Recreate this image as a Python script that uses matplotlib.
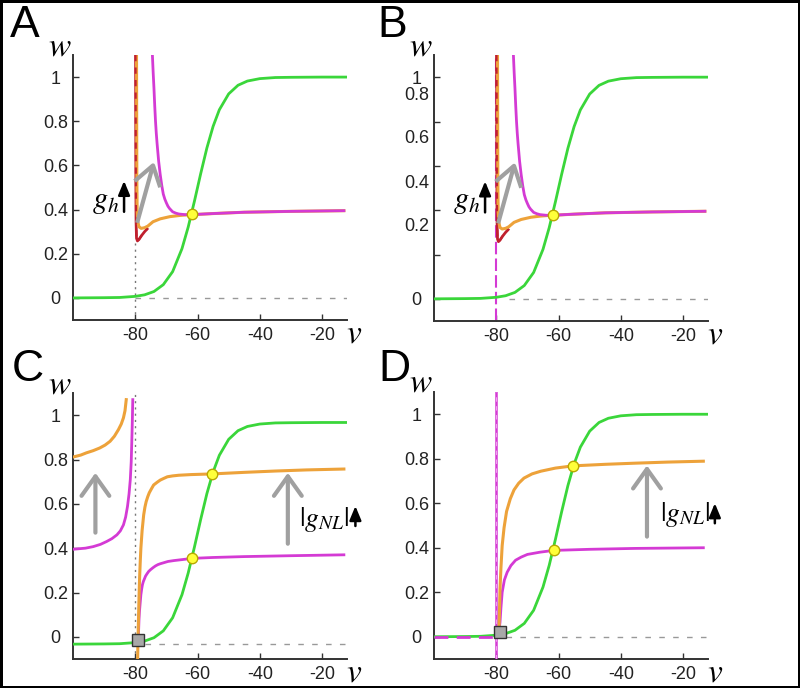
import matplotlib
matplotlib.use("Agg")
import matplotlib.pyplot as plt

plt.rcParams['font.family'] = ['Liberation Sans', 'DejaVu Sans']
plt.rcParams['mathtext.fontset'] = 'stix'

# colours
GREEN = '#3ad63a'
MAGENTA = '#d43ad4'
ORANGE = '#eda23a'
DARKRED = '#c0202e'
GRAY = '#a0a0a0'

# ---- data ----
# w-nullcline (green), panels A, B, D
green_v = [-100, -90, -85, -80, -77, -74, -71, -68, -65, -63, -61, -59, -57, -55,
           -53, -50, -47, -44, -40, -35, -30, -20, -12]
green_w = [0.0, 0.001, 0.002, 0.007, 0.014, 0.029, 0.060, 0.119, 0.223, 0.321, 0.438,
           0.562, 0.679, 0.777, 0.852, 0.924, 0.963, 0.982, 0.993, 0.998, 0.999, 1.0, 1.0]
# panel C green is shifted down
green_c_w = [-0.033, -0.032, -0.031, -0.026, -0.019, -0.004, 0.027, 0.086, 0.190, 0.288,
             0.405, 0.529, 0.646, 0.744, 0.819, 0.891, 0.930, 0.949, 0.960, 0.965, 0.966,
             0.967, 0.967]

# panels A/B: v-nullclines near E_h
magenta_ab_v = [-74.5, -74.25, -74.0, -73.75, -73.5, -73.25, -73.0, -72.5, -72.0, -71.5,
                -71.0, -70.5, -70.0, -69.5, -69.0, -68.0, -67.0, -66.0, -64.0, -62.0,
                -55.0, -45.0, -30.0, -13.0]
magenta_ab_w = [1.10, 1.02, 0.95, 0.87, 0.80, 0.745, 0.70, 0.62, 0.56, 0.51,
                0.47, 0.447, 0.43, 0.415, 0.405, 0.39, 0.384, 0.38, 0.377, 0.377,
                0.382, 0.388, 0.392, 0.395]
orange_ab_v = [-79.6, -79.55, -79.5, -79.4, -79.2, -78.8, -78.1, -77.0, -76.0, -74.3,
               -72.0, -68.9, -66.0, -63.5, -61.7, -55.0, -45.0, -30.0, -13.0]
orange_ab_w = [1.10, 0.80, 0.55, 0.40, 0.345, 0.322, 0.315, 0.318, 0.325, 0.345,
               0.358, 0.368, 0.373, 0.376, 0.377, 0.382, 0.388, 0.392, 0.395]
red_ab_v = [-79.9, -79.85, -79.8, -79.75, -79.6, -79.3, -78.8, -78.0, -77.0, -76.2]
red_ab_w = [1.10, 0.80, 0.50, 0.35, 0.27, 0.258, 0.265, 0.282, 0.300, 0.312]
fixed_ab = (-61.7, 0.378)

# panel C branches
orange_c_left_v = [-100, -97.5, -95.7, -93.5, -91.4, -89.7, -88.1, -86.7, -85.4, -84.5,
                   -83.8, -83.3, -82.9]
orange_c_left_w = [0.811, 0.82, 0.83, 0.84, 0.852, 0.865, 0.882, 0.905, 0.935, 0.96,
                   0.988, 1.02, 1.07]
magenta_c_left_v = [-100, -96, -93.5, -91.2, -89.2, -87.5, -85.9, -84.8, -83.8, -83.1,
                    -82.5, -82.0, -81.6, -81.3, -81.1, -80.95, -80.8]
magenta_c_left_w = [0.395, 0.40, 0.407, 0.417, 0.43, 0.443, 0.46, 0.478, 0.505, 0.54,
                    0.588, 0.645, 0.709, 0.79, 0.89, 0.97, 1.07]
orange_c_v = [-79.25, -79.1, -78.9, -78.75, -78.6, -78.4, -78.2, -78.0, -77.8, -77.55,
              -77.3, -76.9, -76.5, -76.0, -75.5, -74.8, -74.1, -73.0, -72.0, -70.8,
              -69.7, -68.0, -66.0, -62.0, -55.2, -45.0, -35.0, -25.0, -13.0]
orange_c_w = [-0.10, 0.0, 0.12, 0.20, 0.27, 0.34, 0.40, 0.44, 0.48, 0.515,
              0.55, 0.585, 0.61, 0.632, 0.65, 0.668, 0.685, 0.697, 0.707, 0.715,
              0.722, 0.726, 0.729, 0.732, 0.735, 0.742, 0.748, 0.753, 0.757]
magenta_c_v = [-79.0, -78.9, -78.8, -78.65, -78.5, -78.2, -77.95, -77.7, -77.4, -77.1,
               -76.7, -76.2, -75.7, -75.1, -74.3, -73.5, -72.7, -71.9, -69.5, -67.6,
               -64.0, -61.7, -55.0, -45.0, -30.0, -13.0]
magenta_c_w = [0.0, 0.04, 0.08, 0.115, 0.14, 0.19, 0.215, 0.235, 0.25, 0.26,
               0.274, 0.285, 0.295, 0.303, 0.312, 0.32, 0.326, 0.33, 0.34, 0.344,
               0.35, 0.354, 0.358, 0.362, 0.366, 0.370]
fixed_c = [(-61.7, 0.354), (-55.2, 0.735)]
saddle_c = (-79.0, -0.015)
rest_c = -0.033

# panel D branches
orange_d_v = [-79.3, -79.2, -79.1, -79.0, -78.8, -78.5, -78.1, -77.5, -76.7, -75.5,
              -74.3, -72.8, -71.1, -68.5, -65.7, -61.0, -55.4, -45.0, -35.6, -25.0, -13.5]
orange_d_w = [0.0, 0.02, 0.05, 0.10, 0.216, 0.31, 0.41, 0.49, 0.563, 0.62,
              0.66, 0.69, 0.713, 0.732, 0.744, 0.758, 0.768, 0.775, 0.78, 0.785, 0.789]
magenta_d_v = [-79.3, -79.1, -78.8, -78.5, -78.1, -77.4, -76.5, -75.3, -73.8, -72.0,
               -70.0, -66.0, -61.6, -50.0, -35.6, -13.5]
magenta_d_w = [0.0, 0.03, 0.065, 0.13, 0.2, 0.255, 0.29, 0.32, 0.344, 0.358,
               0.37, 0.38, 0.388, 0.393, 0.397, 0.40]
fixed_d = [(-61.6, 0.388), (-55.4, 0.768)]
saddle_d = (-78.8, 0.02)

# annotations
gh_shaft_v = [-79.4, -74.3]
gh_shaft_w = [0.34, 0.60]
gh_head_v = [-79.7, -74.3, -72.2]
gh_head_w = [0.535, 0.60, 0.51]

x_ticks = [-80, -60, -40, -20]
y_ticks = [0, 0.2, 0.4, 0.6, 0.8, 1.0]
y_labels = ['0', '0.2', '0.4', '0.6', '0.8', '1']
b_label_pos = [0.918, 0.725, 0.522, 0.326]
b_label_txt = ['0.8', '0.6', '0.4', '0.2']

W, H = 800, 688
fig = plt.figure(figsize=(W / 100, H / 100), dpi=100)
fig.patch.set_edgecolor('black')
fig.patch.set_linewidth(2.5)


def make_axes(left, top, right, bottom):
    ax = fig.add_axes([left / W, 1 - bottom / H, (right - left) / W, (bottom - top) / H])
    ax.set_xlim(-100, -12)
    ax.set_ylim(-0.1, 1.1)
    for s in ['top', 'right']:
        ax.spines[s].set_visible(False)
    for s in ['left', 'bottom']:
        ax.spines[s].set_color('#333333')
        ax.spines[s].set_linewidth(1.4)
    ax.set_xticks(x_ticks)
    ax.set_xticklabels([str(t) for t in x_ticks])
    ax.set_yticks(y_ticks)
    ax.set_yticklabels(y_labels)
    ax.tick_params(axis='both', direction='in', length=4, width=1, colors='#333333',
                   labelsize=13, labelcolor='#222222')
    ax.tick_params(axis='y', pad=12.5)
    ax.tick_params(axis='x', pad=5)
    for lab in ax.get_yticklabels():
        lab.set_horizontalalignment('center')
    ax.text(-0.048, 1.0, r'$w$', transform=ax.transAxes, ha='center', va='baseline',
            fontsize=24)
    ax.text(1.025, -0.085, r'$v$', transform=ax.transAxes, ha='center', va='baseline',
            fontsize=24)
    return ax


def dashed_zero(ax, v0, w0=0.0):
    ax.plot([v0, -12], [w0, w0], color='#999999', lw=1, dashes=(4, 6), zorder=1)


def dot(ax, pts):
    for v, w in pts:
        ax.plot(v, w, 'o', ms=7.5, mfc='#ffff3a', mec='#b8a800', mew=1, zorder=6)


def up_arrow_gray(ax, v, w0, w1):
    ax.annotate('', xy=(v, w1), xytext=(v, w0),
                arrowprops=dict(arrowstyle='->,head_length=0.7,head_width=0.5',
                                color=GRAY, lw=3, mutation_scale=20, shrinkA=0, shrinkB=0))


def up_arrow_black(ax, v, w0, w1):
    ax.annotate('', xy=(v, w1), xytext=(v, w0), annotation_clip=False,
                arrowprops=dict(arrowstyle='-|>,head_length=0.6,head_width=0.25',
                                color='black', lw=1.8, mutation_scale=14, shrinkA=0, shrinkB=0))


def panel_ab(ax, with_magenta_line):
    dashed_zero(ax, -80 if not with_magenta_line else -76)
    if with_magenta_line:
        ax.axvline(-80, color=MAGENTA, lw=1.5, dashes=(6, 2), zorder=2)
    else:
        ax.plot([-80, -80], [-0.1, 0.25], color='#777777', lw=1, dashes=(1.5, 3), zorder=1)
    ax.plot(green_v, green_w, color=GREEN, lw=2, zorder=3)
    ax.plot(red_ab_v, red_ab_w, color=DARKRED, lw=2, zorder=3)
    ax.plot(orange_ab_v, orange_ab_w, color=ORANGE, lw=2.2, zorder=3)
    ax.plot(red_ab_v, red_ab_w, color=DARKRED, lw=1.5, dashes=(3, 3), zorder=4)
    ax.plot(magenta_ab_v, magenta_ab_w, color=MAGENTA, lw=2, zorder=4)
    ax.plot(gh_shaft_v, gh_shaft_w, color=GRAY, lw=3, zorder=5, solid_capstyle='butt')
    ax.plot(gh_head_v, gh_head_w, color=GRAY, lw=3, zorder=5)
    dot(ax, [fixed_ab])
    ax.text(-89.5, 0.44, r'$g_h$', ha='center', va='center', fontsize=22)
    up_arrow_black(ax, -83.6, 0.39, 0.53)


# ---- A ----
axA = make_axes(73, 55, 347, 320)
panel_ab(axA, False)

# ---- B ----
axB = make_axes(434, 55, 708, 321)
axB.set_yticklabels(['0', '', '', '', '', '1'])
for pos, txt in zip(b_label_pos, b_label_txt):
    axB.text(-0.063, pos, txt, transform=axB.get_yaxis_transform(), ha='center',
             va='center', fontsize=13, color='#222222')
panel_ab(axB, True)

# ---- C ----
axC = make_axes(73, 393, 347, 659)
dashed_zero(axC, -77, rest_c)
axC.plot([-80.1, -80.1], [-0.1, 1.1], color='#777777', lw=1, dashes=(1.5, 3), zorder=1)
axC.plot(green_v, green_c_w, color=GREEN, lw=2, zorder=3)
axC.plot(orange_c_left_v, orange_c_left_w, color=ORANGE, lw=2.2, zorder=3)
axC.plot(magenta_c_left_v, magenta_c_left_w, color=MAGENTA, lw=2, zorder=3)
axC.plot(magenta_c_v, magenta_c_w, color=MAGENTA, lw=2, zorder=3)
axC.plot(orange_c_v, orange_c_w, color=ORANGE, lw=2.2, zorder=4)
dot(axC, fixed_c)
axC.plot(*saddle_c, 's', ms=9, mfc='#a8a8a8', mec='#333333', mew=1, zorder=6)
up_arrow_gray(axC, -92.8, 0.47, 0.74)
up_arrow_gray(axC, -31.0, 0.42, 0.74)
axC.text(-27.5, 0.53, r'$|g_{NL}|$', ha='left', va='center', fontsize=20)
up_arrow_black(axC, -9.3, 0.50, 0.59)

# ---- D ----
axD = make_axes(434, 392, 708, 659)
dashed_zero(axD, -77)
axD.plot(green_v, green_w, color=GREEN, lw=2, zorder=3)
axD.plot([-100, -80], [0, 0], color=MAGENTA, lw=2, dashes=(5, 3), zorder=4)
axD.axvline(-80, color=MAGENTA, lw=1.8, zorder=3)
axD.axvline(-80, color='#f0a0f0', lw=0.8, dashes=(4, 4), zorder=3)
axD.plot(magenta_d_v, magenta_d_w, color=MAGENTA, lw=2, zorder=3)
axD.plot(orange_d_v, orange_d_w, color=ORANGE, lw=2.2, zorder=4)
dot(axD, fixed_d)
axD.plot(*saddle_d, 's', ms=9, mfc='#a8a8a8', mec='#333333', mew=1, zorder=6)
up_arrow_gray(axD, -31.6, 0.45, 0.77)
axD.text(-27.5, 0.55, r'$|g_{NL}|$', ha='left', va='center', fontsize=20)
up_arrow_black(axD, -9.8, 0.51, 0.60)

# panel letters
for x, y, s in [(10, 37, 'A'), (377, 37, 'B'), (12, 381, 'C'), (378, 381, 'D')]:
    fig.text(x / W, 1 - y / H, s, fontsize=32, ha='left', va='baseline')

fig.savefig('out.png', dpi=100, edgecolor=fig.get_edgecolor())
